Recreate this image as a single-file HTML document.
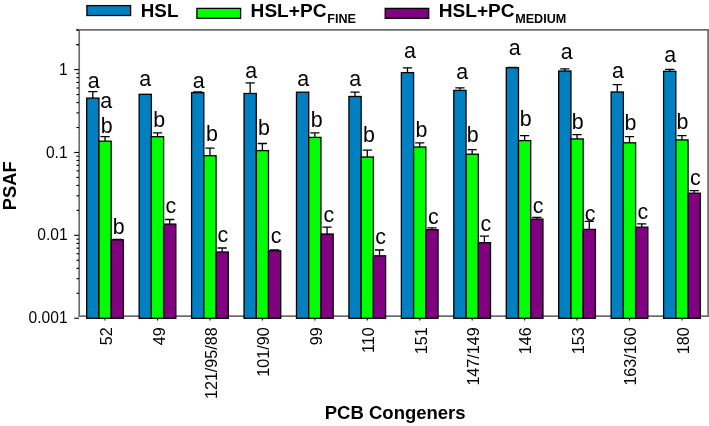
<!DOCTYPE html>
<html><head><meta charset="utf-8"><title>PSAF chart</title>
<style>html,body{margin:0;padding:0;background:#fff}svg{display:block}text{font-family:"Liberation Sans",Arial,Helvetica,sans-serif;fill:#000}.b{font-weight:bold}</style></head><body>
<svg width="709" height="426" viewBox="0 0 709 426">
<rect width="709" height="426" fill="#fff"/>
<g stroke="#6c6c6c" stroke-width="1.7" fill="none">
<line x1="76.1" y1="29.8" x2="709" y2="29.8"/>
<line x1="79.2" y1="29" x2="79.2" y2="316.9"/>
<line x1="708.1" y1="29" x2="708.1" y2="316.9"/>
<line x1="79.2" y1="316.05" x2="709" y2="316.05"/>
</g>
<g stroke="#000" stroke-width="1.1">
<line x1="74.2" y1="69.60" x2="79" y2="69.60"/>
<line x1="76.4" y1="44.65" x2="79" y2="44.65"/>
<line x1="76.4" y1="30.06" x2="79" y2="30.06"/>
<line x1="74.2" y1="152.47" x2="79" y2="152.47"/>
<line x1="76.4" y1="127.52" x2="79" y2="127.52"/>
<line x1="76.4" y1="112.93" x2="79" y2="112.93"/>
<line x1="76.4" y1="102.58" x2="79" y2="102.58"/>
<line x1="76.4" y1="94.55" x2="79" y2="94.55"/>
<line x1="76.4" y1="87.98" x2="79" y2="87.98"/>
<line x1="76.4" y1="82.44" x2="79" y2="82.44"/>
<line x1="76.4" y1="77.63" x2="79" y2="77.63"/>
<line x1="76.4" y1="73.39" x2="79" y2="73.39"/>
<line x1="74.2" y1="235.34" x2="79" y2="235.34"/>
<line x1="76.4" y1="210.39" x2="79" y2="210.39"/>
<line x1="76.4" y1="195.80" x2="79" y2="195.80"/>
<line x1="76.4" y1="185.45" x2="79" y2="185.45"/>
<line x1="76.4" y1="177.42" x2="79" y2="177.42"/>
<line x1="76.4" y1="170.85" x2="79" y2="170.85"/>
<line x1="76.4" y1="165.31" x2="79" y2="165.31"/>
<line x1="76.4" y1="160.50" x2="79" y2="160.50"/>
<line x1="76.4" y1="156.26" x2="79" y2="156.26"/>
<line x1="74.2" y1="318.21" x2="79" y2="318.21"/>
<line x1="76.4" y1="293.26" x2="79" y2="293.26"/>
<line x1="76.4" y1="278.67" x2="79" y2="278.67"/>
<line x1="76.4" y1="268.32" x2="79" y2="268.32"/>
<line x1="76.4" y1="260.29" x2="79" y2="260.29"/>
<line x1="76.4" y1="253.72" x2="79" y2="253.72"/>
<line x1="76.4" y1="248.18" x2="79" y2="248.18"/>
<line x1="76.4" y1="243.37" x2="79" y2="243.37"/>
<line x1="76.4" y1="239.13" x2="79" y2="239.13"/>
<line x1="76.4" y1="44.65" x2="79" y2="44.65"/>
<line x1="105.05" y1="318.3" x2="105.05" y2="320.6"/>
<line x1="157.49" y1="318.3" x2="157.49" y2="320.6"/>
<line x1="209.94" y1="318.3" x2="209.94" y2="320.6"/>
<line x1="262.38" y1="318.3" x2="262.38" y2="320.6"/>
<line x1="314.83" y1="318.3" x2="314.83" y2="320.6"/>
<line x1="367.27" y1="318.3" x2="367.27" y2="320.6"/>
<line x1="419.72" y1="318.3" x2="419.72" y2="320.6"/>
<line x1="472.16" y1="318.3" x2="472.16" y2="320.6"/>
<line x1="524.61" y1="318.3" x2="524.61" y2="320.6"/>
<line x1="577.05" y1="318.3" x2="577.05" y2="320.6"/>
<line x1="629.50" y1="318.3" x2="629.50" y2="320.6"/>
<line x1="681.94" y1="318.3" x2="681.94" y2="320.6"/>
</g>
<path d="M92.81 98.10V91.70M88.22 91.70H97.41" stroke="#000" stroke-width="1.3" fill="none"/>
<rect x="86.70" y="98.10" width="12.23" height="220.20" fill="#0080c0" stroke="#000" stroke-width="1.3"/>
<path d="M105.05 141.20V136.70M100.45 136.70H109.64" stroke="#000" stroke-width="1.3" fill="none"/>
<rect x="98.93" y="141.20" width="12.23" height="177.10" fill="#00ff00" stroke="#000" stroke-width="1.3"/>
<path d="M117.27 239.80V239.30M112.67 239.30H121.87" stroke="#000" stroke-width="1.3" fill="none"/>
<rect x="111.16" y="239.80" width="12.23" height="78.50" fill="#800080" stroke="#000" stroke-width="1.3"/>
<rect x="139.15" y="94.30" width="12.23" height="224.00" fill="#0080c0" stroke="#000" stroke-width="1.3"/>
<path d="M157.49 136.70V132.90M152.89 132.90H162.09" stroke="#000" stroke-width="1.3" fill="none"/>
<rect x="151.38" y="136.70" width="12.23" height="181.60" fill="#00ff00" stroke="#000" stroke-width="1.3"/>
<path d="M169.72 224.10V219.50M165.12 219.50H174.32" stroke="#000" stroke-width="1.3" fill="none"/>
<rect x="163.61" y="224.10" width="12.23" height="94.20" fill="#800080" stroke="#000" stroke-width="1.3"/>
<path d="M197.71 92.70V92.00M193.11 92.00H202.31" stroke="#000" stroke-width="1.3" fill="none"/>
<rect x="191.59" y="92.70" width="12.23" height="225.60" fill="#0080c0" stroke="#000" stroke-width="1.3"/>
<path d="M209.94 155.70V148.10M205.34 148.10H214.53" stroke="#000" stroke-width="1.3" fill="none"/>
<rect x="203.82" y="155.70" width="12.23" height="162.60" fill="#00ff00" stroke="#000" stroke-width="1.3"/>
<path d="M222.17 252.00V248.00M217.57 248.00H226.77" stroke="#000" stroke-width="1.3" fill="none"/>
<rect x="216.05" y="252.00" width="12.23" height="66.30" fill="#800080" stroke="#000" stroke-width="1.3"/>
<path d="M250.15 93.50V82.80M245.55 82.80H254.75" stroke="#000" stroke-width="1.3" fill="none"/>
<rect x="244.04" y="93.50" width="12.23" height="224.80" fill="#0080c0" stroke="#000" stroke-width="1.3"/>
<path d="M262.38 150.60V143.50M257.78 143.50H266.98" stroke="#000" stroke-width="1.3" fill="none"/>
<rect x="256.26" y="150.60" width="12.23" height="167.70" fill="#00ff00" stroke="#000" stroke-width="1.3"/>
<path d="M274.61 250.80V249.80M270.01 249.80H279.21" stroke="#000" stroke-width="1.3" fill="none"/>
<rect x="268.50" y="250.80" width="12.23" height="67.50" fill="#800080" stroke="#000" stroke-width="1.3"/>
<rect x="296.48" y="92.20" width="12.23" height="226.10" fill="#0080c0" stroke="#000" stroke-width="1.3"/>
<path d="M314.83 137.40V132.90M310.23 132.90H319.43" stroke="#000" stroke-width="1.3" fill="none"/>
<rect x="308.71" y="137.40" width="12.23" height="180.90" fill="#00ff00" stroke="#000" stroke-width="1.3"/>
<path d="M327.06 234.00V227.20M322.45 227.20H331.66" stroke="#000" stroke-width="1.3" fill="none"/>
<rect x="320.94" y="234.00" width="12.23" height="84.30" fill="#800080" stroke="#000" stroke-width="1.3"/>
<path d="M355.04 96.50V92.20M350.44 92.20H359.64" stroke="#000" stroke-width="1.3" fill="none"/>
<rect x="348.93" y="96.50" width="12.23" height="221.80" fill="#0080c0" stroke="#000" stroke-width="1.3"/>
<path d="M367.27 157.00V150.10M362.67 150.10H371.87" stroke="#000" stroke-width="1.3" fill="none"/>
<rect x="361.16" y="157.00" width="12.23" height="161.30" fill="#00ff00" stroke="#000" stroke-width="1.3"/>
<path d="M379.50 255.80V250.00M374.90 250.00H384.10" stroke="#000" stroke-width="1.3" fill="none"/>
<rect x="373.38" y="255.80" width="12.23" height="62.50" fill="#800080" stroke="#000" stroke-width="1.3"/>
<path d="M407.49 72.60V67.80M402.88 67.80H412.09" stroke="#000" stroke-width="1.3" fill="none"/>
<rect x="401.37" y="72.60" width="12.23" height="245.70" fill="#0080c0" stroke="#000" stroke-width="1.3"/>
<path d="M419.72 147.00V142.80M415.12 142.80H424.32" stroke="#000" stroke-width="1.3" fill="none"/>
<rect x="413.60" y="147.00" width="12.23" height="171.30" fill="#00ff00" stroke="#000" stroke-width="1.3"/>
<path d="M431.94 229.70V227.80M427.34 227.80H436.55" stroke="#000" stroke-width="1.3" fill="none"/>
<rect x="425.83" y="229.70" width="12.23" height="88.60" fill="#800080" stroke="#000" stroke-width="1.3"/>
<path d="M459.93 90.40V87.80M455.33 87.80H464.53" stroke="#000" stroke-width="1.3" fill="none"/>
<rect x="453.81" y="90.40" width="12.23" height="227.90" fill="#0080c0" stroke="#000" stroke-width="1.3"/>
<path d="M472.16 154.20V149.60M467.56 149.60H476.76" stroke="#000" stroke-width="1.3" fill="none"/>
<rect x="466.05" y="154.20" width="12.23" height="164.10" fill="#00ff00" stroke="#000" stroke-width="1.3"/>
<path d="M484.39 242.70V236.20M479.79 236.20H488.99" stroke="#000" stroke-width="1.3" fill="none"/>
<rect x="478.27" y="242.70" width="12.23" height="75.60" fill="#800080" stroke="#000" stroke-width="1.3"/>
<path d="M512.38 67.70V67.30M507.77 67.30H516.98" stroke="#000" stroke-width="1.3" fill="none"/>
<rect x="506.26" y="67.70" width="12.23" height="250.60" fill="#0080c0" stroke="#000" stroke-width="1.3"/>
<path d="M524.61 140.60V135.70M520.00 135.70H529.21" stroke="#000" stroke-width="1.3" fill="none"/>
<rect x="518.49" y="140.60" width="12.23" height="177.70" fill="#00ff00" stroke="#000" stroke-width="1.3"/>
<path d="M536.84 219.10V217.40M532.24 217.40H541.44" stroke="#000" stroke-width="1.3" fill="none"/>
<rect x="530.72" y="219.10" width="12.23" height="99.20" fill="#800080" stroke="#000" stroke-width="1.3"/>
<path d="M564.82 71.00V68.80M560.22 68.80H569.42" stroke="#000" stroke-width="1.3" fill="none"/>
<rect x="558.71" y="71.00" width="12.23" height="247.30" fill="#0080c0" stroke="#000" stroke-width="1.3"/>
<path d="M577.05 138.90V134.70M572.45 134.70H581.65" stroke="#000" stroke-width="1.3" fill="none"/>
<rect x="570.94" y="138.90" width="12.23" height="179.40" fill="#00ff00" stroke="#000" stroke-width="1.3"/>
<path d="M589.28 229.40V221.30M584.68 221.30H593.88" stroke="#000" stroke-width="1.3" fill="none"/>
<rect x="583.17" y="229.40" width="12.23" height="88.90" fill="#800080" stroke="#000" stroke-width="1.3"/>
<path d="M617.27 92.00V84.60M612.67 84.60H621.87" stroke="#000" stroke-width="1.3" fill="none"/>
<rect x="611.15" y="92.00" width="12.23" height="226.30" fill="#0080c0" stroke="#000" stroke-width="1.3"/>
<path d="M629.50 142.80V136.70M624.90 136.70H634.10" stroke="#000" stroke-width="1.3" fill="none"/>
<rect x="623.38" y="142.80" width="12.23" height="175.50" fill="#00ff00" stroke="#000" stroke-width="1.3"/>
<path d="M641.73 227.20V223.90M637.13 223.90H646.33" stroke="#000" stroke-width="1.3" fill="none"/>
<rect x="635.61" y="227.20" width="12.23" height="91.10" fill="#800080" stroke="#000" stroke-width="1.3"/>
<path d="M669.71 71.30V69.30M665.11 69.30H674.31" stroke="#000" stroke-width="1.3" fill="none"/>
<rect x="663.60" y="71.30" width="12.23" height="247.00" fill="#0080c0" stroke="#000" stroke-width="1.3"/>
<path d="M681.94 139.90V135.70M677.34 135.70H686.54" stroke="#000" stroke-width="1.3" fill="none"/>
<rect x="675.83" y="139.90" width="12.23" height="178.40" fill="#00ff00" stroke="#000" stroke-width="1.3"/>
<path d="M694.17 193.20V190.60M689.57 190.60H698.77" stroke="#000" stroke-width="1.3" fill="none"/>
<rect x="688.06" y="193.20" width="12.23" height="125.10" fill="#800080" stroke="#000" stroke-width="1.3"/>
<g font-size="21.4" text-anchor="middle">
<text x="93.6" y="87.9">a</text>
<text x="106.1" y="108.4">a</text>
<text x="145.2" y="85.9">a</text>
<text x="198.7" y="87.9">a</text>
<text x="251.2" y="77.8">a</text>
<text x="303.3" y="86.2">a</text>
<text x="355.2" y="86.2">a</text>
<text x="410.0" y="58.2">a</text>
<text x="462.3" y="79.2">a</text>
<text x="514.6" y="54.5">a</text>
<text x="566.7" y="59.4">a</text>
<text x="617.9" y="78.4">a</text>
<text x="670.3" y="61.5">a</text>
<text x="106.6" y="132.8">b</text>
<text x="159.3" y="127.0">b</text>
<text x="211.9" y="141.3">b</text>
<text x="263.9" y="135.4">b</text>
<text x="316.8" y="127.0">b</text>
<text x="368.9" y="142.2">b</text>
<text x="421.4" y="136.5">b</text>
<text x="472.6" y="142.1">b</text>
<text x="525.7" y="126.2">b</text>
<text x="577.6" y="128.6">b</text>
<text x="630.4" y="130.1">b</text>
<text x="682.5" y="128.6">b</text>
<text x="118.8" y="234.2">b</text>
<text x="170.9" y="213.2">c</text>
<text x="222.8" y="241.8">c</text>
<text x="276.2" y="243.0">c</text>
<text x="328.8" y="221.8">c</text>
<text x="380.5" y="243.7">c</text>
<text x="433.4" y="224.1">c</text>
<text x="485.8" y="231.4">c</text>
<text x="538.1" y="212.8">c</text>
<text x="590.2" y="220.9">c</text>
<text x="642.8" y="218.5">c</text>
<text x="695.4" y="185.2">c</text>
</g>
<g font-size="15.6" text-anchor="end">
<text x="67.6" y="74.7">1</text>
<text x="67.6" y="157.6">0.1</text>
<text x="67.6" y="240.4">0.01</text>
<text x="67.6" y="323.3">0.001</text>
</g>
<g font-size="16.1" text-anchor="end">
<text transform="translate(112.1 327.4) rotate(-90)">52</text>
<text transform="translate(164.5 327.4) rotate(-90)">49</text>
<text transform="translate(216.9 327.4) rotate(-90)">121/95/88</text>
<text transform="translate(269.3 327.4) rotate(-90)">101/90</text>
<text transform="translate(321.7 327.4) rotate(-90)">99</text>
<text transform="translate(374.1 327.4) rotate(-90)">110</text>
<text transform="translate(426.5 327.4) rotate(-90)">151</text>
<text transform="translate(478.9 327.4) rotate(-90)">147/149</text>
<text transform="translate(531.3 327.4) rotate(-90)">146</text>
<text transform="translate(583.7 327.4) rotate(-90)">153</text>
<text transform="translate(636.1 327.4) rotate(-90)">163/160</text>
<text transform="translate(688.5 327.4) rotate(-90)">180</text>
</g>
<text class="b" font-size="18.3" text-anchor="middle" transform="translate(15.6 185.8) rotate(-90)">PSAF</text>
<text class="b" font-size="18.5" text-anchor="middle" x="395.2" y="419.3">PCB Congeners</text>
<rect x="86.9" y="5.6" width="43.7" height="9.9" fill="#0080c0" stroke="#000" stroke-width="1.3"/>
<rect x="196.9" y="8.4" width="43.7" height="9.9" fill="#00ff00" stroke="#000" stroke-width="1.3"/>
<rect x="385.2" y="8.4" width="43.5" height="9.9" fill="#800080" stroke="#000" stroke-width="1.3"/>
<text class="b" font-size="18.8" x="140.8" y="16.8">HSL</text>
<text class="b" font-size="19.1" x="250.6" y="16.5">HSL+PC<tspan font-size="12.6" dx="0.8" dy="6.7">FINE</tspan></text>
<text class="b" font-size="19.1" x="438.7" y="16.5">HSL+PC<tspan font-size="12.6" dx="0.6" dy="6.7">MEDIUM</tspan></text>
</svg></body></html>
